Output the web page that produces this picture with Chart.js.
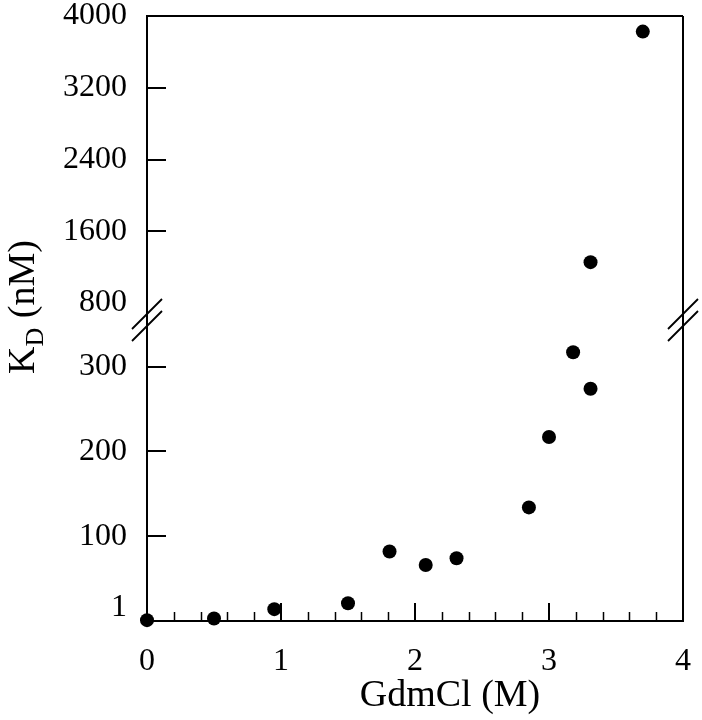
<!DOCTYPE html>
<html><head><meta charset="utf-8">
<script src="https://cdn.jsdelivr.net/npm/chart.js@4"></script>
<style>html,body{margin:0;padding:0;background:#fff}#wrap{width:702px;height:720px}</style>
</head><body><div id="wrap"><canvas id="c" width="702" height="720"></canvas></div>
<script>
// GdmCl concentration (M) and K_D (nM)
const gdmLow = [0, 0.5, 0.95, 1.5, 1.81, 2.08, 2.31, 2.85, 3.0, 3.18, 3.31];
const kdLow = [1, 3, 14, 21, 82, 66, 74, 134, 217, 317, 274];
const gdmHigh = [3.31, 3.70];
const kdHigh = [1256, 3826];
const xTicks = [0, 1, 2, 3, 4];
const xMinorTicks = [0.2, 0.4, 0.6, 0.8, 1.2, 1.4, 1.6, 1.8, 2.2, 2.4, 2.6, 2.8, 3.2, 3.4, 3.6, 3.8];
const yLowTicks = [1, 100, 200, 300];
const yHighTicks = [800, 1600, 2400, 3200, 4000];
const yLowRange = [0, 355];
const yHighRange = [611, 4000];
const xTitle = 'GdmCl (M)';

const FONT = "'Liberation Serif', 'Times New Roman', serif";

const deco = {
  id: 'deco',
  afterDraw(chart) {
    const ctx = chart.ctx;
    const a = chart.chartArea;
    const xs = chart.scales.x, yl = chart.scales.yLow, yh = chart.scales.yHigh;
    ctx.save();
    ctx.strokeStyle = '#000';
    ctx.lineWidth = 2;
    ctx.beginPath();
    ctx.moveTo(a.left, a.top); ctx.lineTo(a.right, a.top);
    ctx.moveTo(a.right, a.top); ctx.lineTo(a.right, a.bottom);
    ctx.stroke();
    // inward ticks
    ctx.lineWidth = 2;
    ctx.beginPath();
    [yLowTicks.slice(1), yHighTicks.slice(1, -1)].forEach((arr, k) => {
      const sc = k === 0 ? yl : yh;
      arr.forEach(v => { const p = Math.round(sc.getPixelForValue(v)); ctx.moveTo(a.left, p); ctx.lineTo(a.left + 19, p); });
    });
    xTicks.slice(1, -1).forEach(v => { const p = Math.round(xs.getPixelForValue(v)); ctx.moveTo(p, a.bottom); ctx.lineTo(p, a.bottom - 18); });
    ctx.stroke();
    ctx.lineWidth = 1.5;
    ctx.beginPath();
    xMinorTicks.forEach(v => { const p = Math.round(xs.getPixelForValue(v)) + 0.5; ctx.moveTo(p, a.bottom); ctx.lineTo(p, a.bottom - 9); });
    ctx.stroke();
    // axis break marks
    const yb = yl.top;
    ctx.lineWidth = 1.8;
    ctx.beginPath();
    [a.left, a.right].forEach(x0 => {
      [-6, 6].forEach(d => {
        ctx.moveTo(x0 - 15, yb + d + 15);
        ctx.lineTo(x0 + 15, yb + d - 15);
      });
    });
    ctx.stroke();
    // titles
    ctx.fillStyle = '#000';
    ctx.font = "38px " + FONT;
    ctx.textAlign = 'center';
    ctx.textBaseline = 'middle';
    ctx.fillText(xTitle, (a.left + a.right) / 2 + 35, 696);
    // y title with subscript
    ctx.translate(34, 307);
    ctx.rotate(-Math.PI / 2);
    ctx.textAlign = 'left';
    ctx.textBaseline = 'alphabetic';
    const fBig = "38px " + FONT, fSub = "26px " + FONT;
    ctx.font = fBig; const wK = ctx.measureText('K').width; const wRest = ctx.measureText(' (nM)').width;
    ctx.font = fSub; const wD = ctx.measureText('D').width;
    let x = -(wK + wD + wRest) / 2;
    ctx.font = fBig; ctx.fillText('K', x, 0); x += wK;
    ctx.font = fSub; ctx.fillText('D', x, 9); x += wD;
    ctx.font = fBig; ctx.fillText(' (nM)', x, 0);
    ctx.restore();
  }
};

const tickFont = { family: FONT, size: 32, lineHeight: 0.8 };
function yAxis(range, ticks, weight, sw) {
  return {
    type: 'linear', position: 'left', stack: 'y', stackWeight: sw, weight: weight,
    min: range[0], max: range[1],
    grid: { display: false, drawTicks: false },
    border: { display: true, color: '#000', width: 2 },
    ticks: {
      color: '#000', font: tickFont, padding: 20,
      callback: v => (v === 1 ? ['1', ''] : String(v))
    },
    afterBuildTicks: s => { s.ticks = ticks.map(v => ({ value: v })); },
    afterFit: s => { s.width = 147; s.paddingTop = 0; s.paddingBottom = 0; }
  };
}

new Chart(document.getElementById('c'), {
  type: 'scatter',
  data: {
    datasets: [
      { label: 'KD low', data: gdmLow.map((x, i) => ({ x: x, y: kdLow[i] })), xAxisID: 'x', yAxisID: 'yLow',
        pointRadius: 7, pointBackgroundColor: '#000', pointBorderWidth: 0, clip: false },
      { label: 'KD high', data: gdmHigh.map((x, i) => ({ x: x, y: kdHigh[i] })), xAxisID: 'x', yAxisID: 'yHigh',
        pointRadius: 7, pointBackgroundColor: '#000', pointBorderWidth: 0, clip: false }
    ]
  },
  options: {
    responsive: false, animation: false,
    layout: { padding: { top: 16, right: 19, left: 0, bottom: 0 } },
    plugins: { legend: { display: false }, tooltip: { enabled: false } },
    scales: {
      x: {
        type: 'linear', position: 'bottom', min: 0, max: 4,
        grid: { display: false, drawTicks: false },
        border: { display: true, color: '#000', width: 2 },
        ticks: { color: '#000', font: { family: FONT, size: 32, lineHeight: 1.2 }, padding: 21, maxRotation: 0 },
        afterBuildTicks: s => { s.ticks = xTicks.map(v => ({ value: v })); },
        afterFit: s => { s.height = 99; s.paddingLeft = 0; s.paddingRight = 0; }
      },
      yLow: yAxis(yLowRange, yLowTicks, 0, 301),
      yHigh: yAxis(yHighRange, yHighTicks, 1, 304)
    }
  },
  plugins: [deco]
});
</script></body></html>
